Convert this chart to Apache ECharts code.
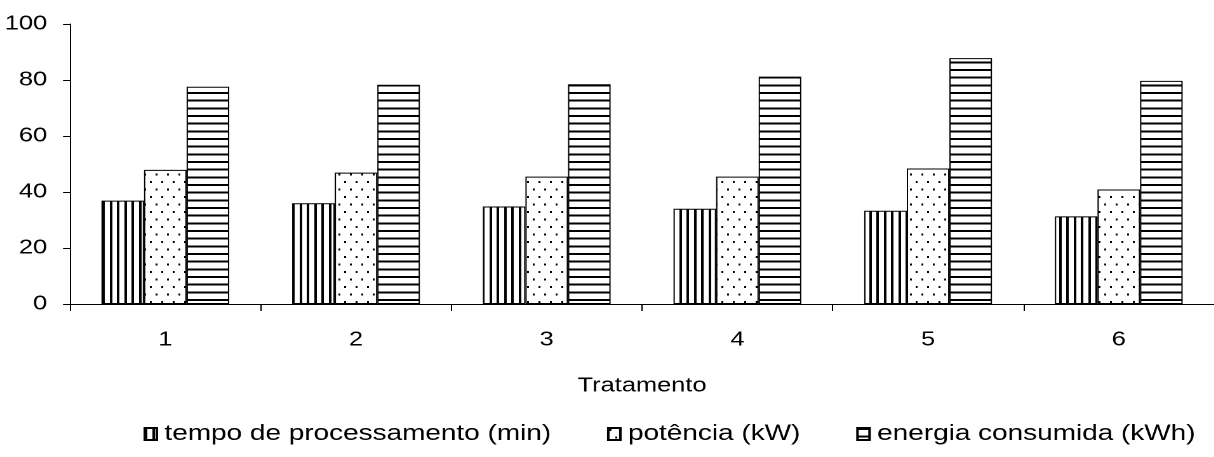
<!DOCTYPE html>
<html>
<head>
<meta charset="utf-8">
<script src="https://cdn.jsdelivr.net/npm/echarts@6/dist/echarts.min.js"></script>
<style>
html,body{margin:0;padding:0;background:#fff;overflow:hidden;width:1214px;height:457px;}
#chart{width:956px;height:457px;transform:scaleX(1.27);transform-origin:0 0;}
</style>
</head>
<body>
<div id="chart"></div>
<script>
const categories = ['1', '2', '3', '4', '5', '6'];
const seriesNames = ['tempo de processamento (min)', 'potência (kW)', 'energia consumida (kWh)'];
const tempoValues = [36.9, 36.0, 34.8, 34.0, 33.3, 31.3];
const potenciaValues = [47.9, 46.9, 45.5, 45.5, 48.4, 40.9];
const energiaValues = [77.6, 78.3, 78.5, 81.2, 87.8, 79.7];
const yTicks = { min: 0, max: 100, interval: 20 };
const xAxisName = 'Tratamento';

// pattern tiles drawn at 2x, scaled back by 0.5 in the pattern
function makeTile(w, h, draw) {
  const c = document.createElement('canvas');
  c.width = w; c.height = h;
  const ctx = c.getContext('2d');
  ctx.fillStyle = '#ffffff';
  ctx.fillRect(0, 0, w, h);
  ctx.fillStyle = '#000000';
  draw(ctx);
  return c;
}
const vStripe = makeTile(23, 8, ctx => {
  ctx.fillRect(0, 0, 4, 8);
  ctx.fillRect(12, 0, 4, 8);
});
const hStripe = makeTile(8, 46, ctx => {
  ctx.fillRect(0, 0, 8, 4);
  ctx.fillRect(0, 15, 8, 4);
  ctx.fillRect(0, 31, 8, 4);
});
const dots = makeTile(18, 30, ctx => {
  ctx.fillRect(2, 2, 3, 4);
  ctx.fillRect(11, 17, 3, 4);
});
const patterns = [vStripe, dots, hStripe];
const dataSets = [tempoValues, potenciaValues, energiaValues];

const FONT = '"Liberation Sans", Arial, sans-serif';
const chart = echarts.init(document.getElementById('chart'), null, { renderer: 'canvas', devicePixelRatio: 2 });
chart.setOption({
  animation: false,
  backgroundColor: '#ffffff',
  textStyle: { fontFamily: FONT, color: '#000' },
  grid: { left: 55.1, top: 24, width: 905.5, height: 280, containLabel: false },
  legend: {
    bottom: 7,
    left: 108,
    width: 1000,
    itemGap: 44,
    itemWidth: 9.5,
    itemHeight: 12,
    icon: 'rect',
    textStyle: { fontFamily: FONT, fontSize: 22, color: '#000', padding: [0, 0, 0, 1] },
    data: seriesNames
  },
  xAxis: {
    type: 'category',
    data: categories,
    name: xAxisName,
    nameLocation: 'middle',
    nameGap: 72,
    nameTextStyle: { fontFamily: FONT, fontSize: 20, color: '#000' },
    axisLine: { lineStyle: { color: '#000', width: 1 } },
    axisTick: { show: true, length: 7, lineStyle: { color: '#000' } },
    axisLabel: { margin: 26, fontFamily: FONT, fontSize: 20, color: '#000' },
    splitLine: { show: false }
  },
  yAxis: {
    type: 'value',
    min: yTicks.min,
    max: yTicks.max,
    interval: yTicks.interval,
    axisLine: { show: true, lineStyle: { color: '#000', width: 1 } },
    axisTick: { show: true, length: 5.5, lineStyle: { color: '#000' } },
    axisLabel: { margin: 18, fontFamily: FONT, fontSize: 20, color: '#000' },
    splitLine: { show: false }
  },
  series: seriesNames.map((name, i) => ({
    name: name,
    type: 'bar',
    data: dataSets[i],
    barGap: '0%',
    barCategoryGap: '33%',
    itemStyle: {
      color: { image: patterns[i], repeat: 'repeat', scaleX: 0.5, scaleY: 0.5 },
      borderColor: '#000',
      borderWidth: 1
    },
    emphasis: { disabled: true }
  }))
});
</script>
</body>
</html>
